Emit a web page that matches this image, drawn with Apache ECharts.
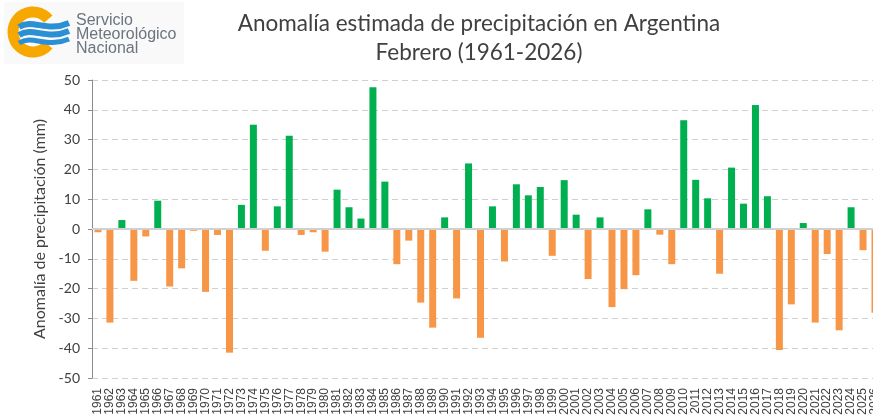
<!DOCTYPE html>
<html>
<head>
<meta charset="utf-8">
<script src="https://cdn.jsdelivr.net/npm/echarts@6/dist/echarts.min.js"></script>
<style>
  html, body { margin: 0; padding: 0; background: #fff; overflow: hidden; }
  /* plot runs a little past the right edge of the window, as in the source image */
  #chart { width: 881px; height: 419px; }
</style>
</head>
<body>
<div id="chart"></div>
<script>
// February precipitation anomaly (mm), 1961-2026
var years = [];
for (var y = 1961; y <= 2026; y++) years.push(String(y));

var anomaly = [
  -1.1, -31.4, 3.0, -17.4, -2.5, 9.5, -19.3, -13.2, -0.6, -21.1,
  -2.0, -41.5, 8.1, 35.0, -7.3, 7.6, 31.3, -2.0, -1.1, -7.6,
  13.2, 7.3, 3.5, 47.6, 15.9, -11.8, -3.9, -24.7, -33.1, 3.9,
  -23.3, 22.0, -36.5, 7.6, -10.9, 15.0, 11.3, 14.1, -9.0, 16.4,
  4.8, -16.8, 3.9, -26.2, -20.2, -15.5, 6.6, -1.9, -11.8, 36.5,
  16.5, 10.3, -15.0, 20.6, 8.5, 41.6, 11.0, -40.6, -25.3, 2.0,
  -31.4, -8.4, -34.0, 7.3, -7.1, -28.1
];

var yTicks = { min: -50, max: 50, step: 10 };

function wave(y, w) {
  return {
    type: 'bezierCurve',
    shape: { x1: 19, y1: y, cpx1: 33, cpy1: y - 9, cpx2: 46, cpy2: y + 6, x2: 69, y2: y - 4 },
    style: { stroke: '#2a8fd4', lineWidth: w, fill: null }
  };
}

var chart = echarts.init(document.getElementById('chart'));

chart.setOption({
  backgroundColor: '#fff',
  animation: false,
  title: {
    text: 'Anomalía estimada de precipitación en Argentina\nFebrero (1961-2026)',
    left: 474,
    top: 4,
    textAlign: 'center',
    textStyle: {
      fontFamily: 'Lato',
      fontSize: 22.5,
      fontWeight: 'normal',
      color: '#404040',
      lineHeight: 29
    }
  },
  grid: { left: 92, top: 80, width: 789, height: 298 },
  xAxis: {
    type: 'category',
    data: years,
    axisLine: { show: false },
    axisTick: { show: false },
    axisLabel: {
      interval: 0,
      rotate: 90,
      margin: 10,
      fontSize: 12,
      color: '#404040',
      fontFamily: 'Liberation Sans'
    }
  },
  yAxis: {
    type: 'value',
    min: yTicks.min,
    max: yTicks.max,
    interval: yTicks.step,
    name: 'Anomalía de precipitación (mm)',
    nameLocation: 'middle',
    nameRotate: 90,
    nameGap: 41,
    nameTextStyle: { fontFamily: 'Lato', fontSize: 16, color: '#404040' },
    axisLine: { show: true, lineStyle: { color: '#8c8c8c', width: 1 } },
    axisTick: { show: true, length: 4, lineStyle: { color: '#8c8c8c' } },
    axisLabel: { fontFamily: 'Lato', fontSize: 14, color: '#404040', margin: 12 },
    splitLine: { lineStyle: { type: [6, 4], color: '#d0d0d0' } }
  },
  series: [{
    type: 'bar',
    data: anomaly,
    barWidth: 7,
    itemStyle: {
      color: function (p) { return p.value >= 0 ? '#00b050' : '#f79646'; }
    },
    markLine: {
      silent: true,
      symbol: 'none',
      label: { show: false },
      lineStyle: { type: 'solid', color: '#d0d0d0', width: 2 },
      data: [{ yAxis: 0 }]
    }
  }],
  graphic: [
    { type: 'rect', shape: { x: 4, y: 2, width: 180, height: 62 }, style: { fill: '#f9f9f9' }, z: -1 },
    {
      type: 'arc',
      shape: { cx: 33, cy: 32, r: 20, startAngle: 0.7, endAngle: Math.PI * 2 - 0.7 },
      style: { stroke: '#f7a800', lineWidth: 11, fill: null }
    },
    wave(27, 6),
    wave(35, 6),
    wave(43, 5),
    { type: 'text', left: 76, top: 13, style: { text: 'Servicio', font: '16px "Liberation Sans"', fill: '#6b7480' } },
    { type: 'text', left: 76, top: 27, style: { text: 'Meteorológico', font: '16px "Liberation Sans"', fill: '#6b7480' } },
    { type: 'text', left: 76, top: 41, style: { text: 'Nacional', font: '16px "Liberation Sans"', fill: '#6b7480' } }
  ]
});
</script>
</body>
</html>
